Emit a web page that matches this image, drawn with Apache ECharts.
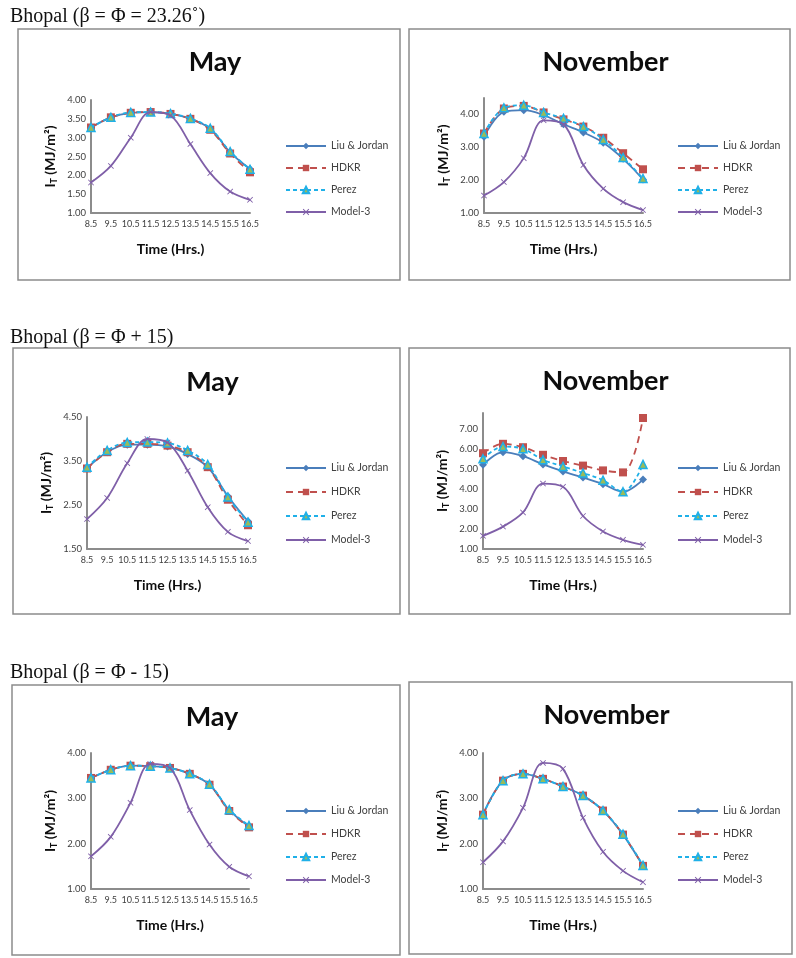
<!DOCTYPE html>
<html>
<head>
<meta charset="utf-8">
<script src="https://cdn.jsdelivr.net/npm/echarts@6/dist/echarts.min.js"></script>
<style>
  html, body { margin: 0; padding: 0; background: #fff; }
  #chart { width: 796px; height: 958px; }
</style>
</head>
<body>
<div id="chart"></div>
<script>
'use strict'

// time axis (hrs)
const hours = ['8.5', '9.5', '10.5', '11.5', '12.5', '13.5', '14.5', '15.5', '16.5']
const seriesNames = ['Liu & Jordan', 'HDKR', 'Perez', 'Model-3']
const sectionTitles = ['Bhopal (β = Φ = 23.26˚)', 'Bhopal (β = Φ + 15)', 'Bhopal (β = Φ - 15)']

// β = Φ
const mayEqLiu = [3.27, 3.54, 3.66, 3.68, 3.63, 3.50, 3.24, 2.61, 2.17]
const mayEqHdkr = [3.27, 3.54, 3.66, 3.68, 3.63, 3.50, 3.21, 2.58, 2.08]
const mayEqPerez = [3.27, 3.54, 3.67, 3.68, 3.64, 3.51, 3.25, 2.63, 2.16]
const mayEqModel3 = [1.81, 2.25, 3.00, 3.68, 3.59, 2.83, 2.06, 1.57, 1.35]
const novEqLiu = [3.32, 4.08, 4.13, 3.98, 3.70, 3.45, 3.14, 2.65, 2.02]
const novEqHdkr = [3.42, 4.18, 4.26, 4.06, 3.85, 3.63, 3.29, 2.82, 2.33]
const novEqPerez = [3.42, 4.20, 4.28, 4.06, 3.88, 3.63, 3.24, 2.69, 2.05]
const novEqModel3 = [1.53, 1.94, 2.67, 3.82, 3.70, 2.46, 1.74, 1.33, 1.09]

// β = Φ + 15
const mayPlusLiu = [3.34, 3.70, 3.87, 3.87, 3.83, 3.66, 3.36, 2.70, 2.13]
const mayPlusHdkr = [3.33, 3.70, 3.89, 3.89, 3.85, 3.70, 3.36, 2.62, 2.04]
const mayPlusPerez = [3.36, 3.74, 3.92, 3.93, 3.91, 3.74, 3.42, 2.68, 2.11]
const mayPlusModel3 = [2.18, 2.66, 3.45, 4.00, 3.92, 3.28, 2.45, 1.89, 1.68]
const novPlusLiu = [5.21, 5.84, 5.64, 5.23, 4.88, 4.57, 4.24, 3.86, 4.47]
const novPlusHdkr = [5.79, 6.26, 6.09, 5.71, 5.40, 5.17, 4.93, 4.83, 7.55]
const novPlusPerez = [5.51, 6.12, 6.01, 5.46, 5.13, 4.80, 4.44, 3.86, 5.23]
const novPlusModel3 = [1.66, 2.12, 2.83, 4.27, 4.11, 2.65, 1.88, 1.46, 1.21]

// β = Φ - 15
const mayMinusLiu = [3.45, 3.63, 3.72, 3.71, 3.67, 3.54, 3.30, 2.74, 2.38]
const mayMinusHdkr = [3.45, 3.63, 3.72, 3.71, 3.67, 3.54, 3.30, 2.72, 2.36]
const mayMinusPerez = [3.45, 3.63, 3.72, 3.71, 3.67, 3.54, 3.31, 2.75, 2.40]
const mayMinusModel3 = [1.72, 2.15, 2.90, 3.76, 3.67, 2.74, 1.98, 1.49, 1.28]
const novMinusLiu = [2.64, 3.39, 3.54, 3.43, 3.26, 3.06, 2.73, 2.20, 1.51]
const novMinusHdkr = [2.64, 3.39, 3.54, 3.43, 3.26, 3.06, 2.73, 2.20, 1.51]
const novMinusPerez = [2.64, 3.39, 3.54, 3.43, 3.26, 3.06, 2.73, 2.21, 1.52]
const novMinusModel3 = [1.59, 2.05, 2.79, 3.78, 3.65, 2.57, 1.82, 1.40, 1.15]

const FONT = 'Lato, "Open Sans", sans-serif'
const GREY = '#8c8c8c'
const xMark = 'path://M0,1L1,0L5,4L9,0L10,1L6,5L10,9L9,10L5,6L1,10L0,9L4,5Z'

// style of the 4 series (same in every panel)
const styles = [
  { color: '#4a7ebb', symbol: 'diamond', size: 8, type: 'solid', fill: '#4a7ebb' },
  { color: '#c0504d', symbol: 'rect', size: 8, type: [7, 5], fill: '#c0504d' },
  { color: '#1fb0e8', symbol: 'triangle', size: 8, type: [4, 3], fill: '#9bbb59' },
  { color: '#7f5fa8', symbol: xMark, size: 6, type: 'solid', fill: '#7f5fa8' }
]

// one panel = box, title, grid, axes, legend and 4 series
const panels = [
  { title: 'May', box: [18, 29, 382, 251], grid: [91, 100, 250, 213], tY: 60, y: [1, 4, 0.5], leg: [285, 139, 8], data: [mayEqLiu, mayEqHdkr, mayEqPerez, mayEqModel3] },
  { title: 'November', box: [409, 29, 381, 251], grid: [484, 98, 643, 213], tY: 60, y: [1, 4.5, 1], leg: [677, 139, 8], data: [novEqLiu, novEqHdkr, novEqPerez, novEqModel3] },
  { title: 'May', box: [13, 348, 387, 266], grid: [87, 417, 248, 549], tY: 380, y: [1.5, 4.5, 1], leg: [285, 461, 10], data: [mayPlusLiu, mayPlusHdkr, mayPlusPerez, mayPlusModel3] },
  { title: 'November', box: [409, 348, 381, 266], grid: [483, 413, 643, 549], tY: 379, y: [1, 7.8, 1], leg: [677, 461, 10], data: [novPlusLiu, novPlusHdkr, novPlusPerez, novPlusModel3] },
  { title: 'May', box: [12, 685, 388, 270], grid: [91, 753, 249, 889], tY: 715, y: [1, 4, 1], leg: [285, 804, 9], data: [mayMinusLiu, mayMinusHdkr, mayMinusPerez, mayMinusModel3] },
  { title: 'November', box: [409, 682, 383, 272], grid: [483, 753, 643, 889], tY: 713, y: [1, 4, 1], leg: [677, 804, 9], data: [novMinusLiu, novMinusHdkr, novMinusPerez, novMinusModel3] }
]

const titles = []
const grids = []
const xAxes = []
const yAxes = []
const legends = []
const series = []
const graphics = []

sectionTitles.forEach(function (t, i) {
  titles.push({
    text: t, left: 10, top: [7, 328, 663][i], padding: 0,
    textStyle: { fontFamily: '"Liberation Serif", serif', fontSize: 20, fontWeight: 'normal', color: '#111' }
  })
})

panels.forEach(function (p, i) {
  const g = p.grid
  graphics.push({
    type: 'rect', silent: true, z: -1,
    shape: { x: p.box[0], y: p.box[1], width: p.box[2], height: p.box[3] },
    style: { fill: '#fff', stroke: GREY, lineWidth: 1.5 }
  })
  titles.push({
    text: p.title, left: (p.box[0] + p.box[0] + p.box[2]) / 2 + 1, top: p.tY - 16, textAlign: 'center',
    textStyle: { fontFamily: FONT, fontSize: 27, fontWeight: 'bold', color: '#0d0d0d' }
  })
  grids.push({ left: g[0], top: g[1], width: g[2] - g[0], height: g[3] - g[1] })
  xAxes.push({
    type: 'category', gridIndex: i, data: hours, boundaryGap: false,
    name: 'Time (Hrs.)', nameLocation: 'middle', nameGap: 29,
    nameTextStyle: { fontFamily: FONT, fontSize: 14, fontWeight: 'bold', color: '#0d0d0d' },
    axisLine: { lineStyle: { color: GREY, width: 2 } },
    axisTick: { show: false },
    axisLabel: { interval: 0, margin: 7, fontFamily: FONT, fontSize: 9, color: '#404040' },
    splitLine: { show: false }
  })
  yAxes.push({
    type: 'value', gridIndex: i, min: p.y[0], max: p.y[1], interval: p.y[2],
    name: '{m|I}{s|T}{m| (MJ/m²)}', nameLocation: 'middle', nameRotate: 90, nameGap: 32,
    nameTextStyle: {
      rich: {
        m: { fontFamily: FONT, fontSize: 14, fontWeight: 'bold', color: '#0d0d0d' },
        s: { fontFamily: FONT, fontSize: 9, fontWeight: 'bold', color: '#0d0d0d', verticalAlign: 'bottom', padding: [8, 0, 0, 0] }
      }
    },
    axisLine: { show: true, lineStyle: { color: GREY, width: 2 } },
    axisTick: { show: false },
    axisLabel: {
      // 4.5 and 7.8 are only the axis ends, not labelled
      showMaxLabel: !(p.y[1] === 4.5 && i === 1) && p.y[1] !== 7.8,
      margin: 5, fontFamily: FONT, fontSize: 9.5, color: '#404040',
      formatter: function (v) { return v.toFixed(2) }
    },
    splitLine: { show: false }
  })
  legends.push({
    data: seriesNames, orient: 'vertical', left: p.leg[0], top: p.leg[1], padding: 0,
    itemWidth: 40, itemHeight: 8, itemGap: p.leg[2], selectedMode: false,
    textStyle: { fontFamily: FONT, fontSize: 10.5, lineHeight: 14, color: '#404040' }
  })
  p.data.forEach(function (vals, k) {
    const s = styles[k]
    series.push({
      name: seriesNames[k], type: 'line', xAxisIndex: i, yAxisIndex: i,
      data: vals, smooth: 0.35,
      symbol: s.symbol, symbolSize: s.size,
      lineStyle: { color: s.color, width: 1.8, type: s.type },
      itemStyle: { color: s.fill, borderColor: s.color, borderWidth: k === 2 ? 1.5 : 0 },
      emphasis: { disabled: true },
      z: 2 + k
    })
  })
})

const chart = echarts.init(document.getElementById('chart'), null, { renderer: 'canvas' })
chart.setOption({
  backgroundColor: '#fff',
  animation: false,
  title: titles,
  grid: grids,
  xAxis: xAxes,
  yAxis: yAxes,
  legend: legends,
  graphic: graphics,
  series: series
})
</script>
</body>
</html>
